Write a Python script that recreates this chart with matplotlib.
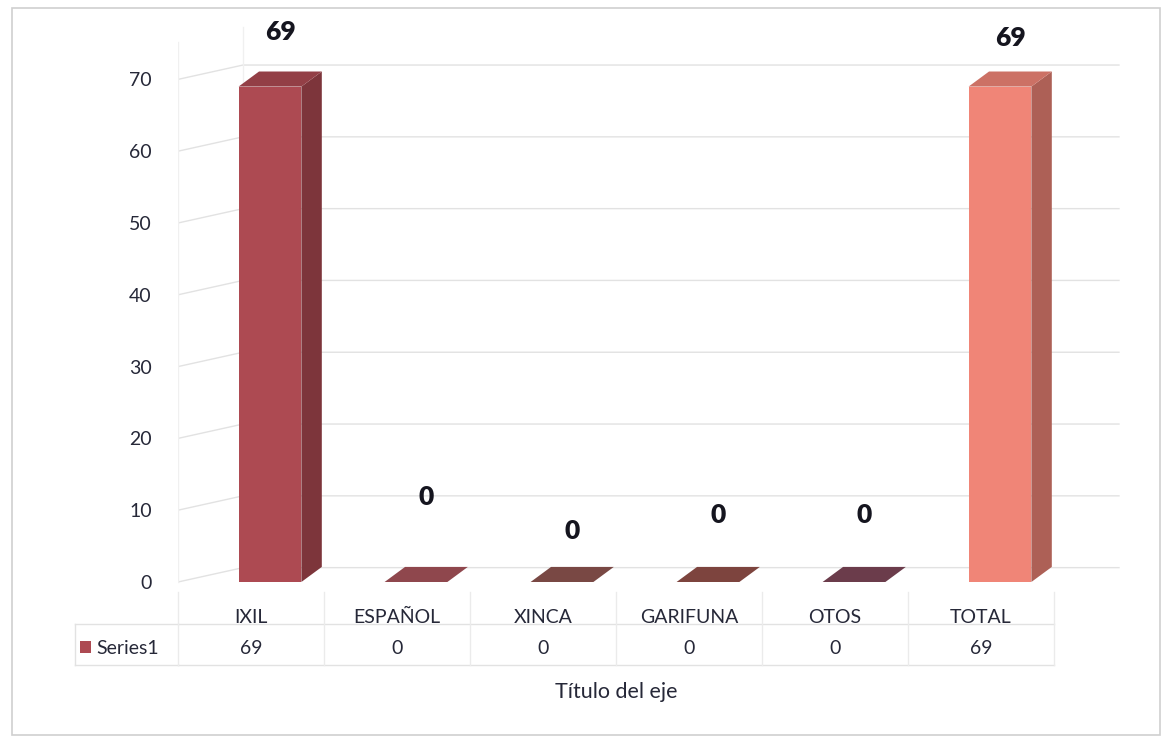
import matplotlib
matplotlib.use("Agg")
import matplotlib.pyplot as plt
from matplotlib.patches import Polygon, Rectangle
from matplotlib.transforms import blended_transform_factory
from matplotlib.colors import to_rgb

# -------- data --------
categories = ["IXIL", "ESPAÑOL", "XINCA", "GARIFUNA", "OTOS", "TOTAL"]
values = [69, 0, 0, 0, 0, 69]
series_name = "Series1"
axis_title = "Título del eje"
yticks = [0, 10, 20, 30, 40, 50, 60, 70]

# -------- style --------
bar_colors = ["#ad4a52", "#a8545a", "#8e5550", "#935049", "#7e4658", "#f08577"]
label_lift = [7.6, 11.8, 7.1, 9.4, 9.3, 6.8]   # where excel happened to put the labels
text_col = "#262838"
grid_col = "#e2e2e2"
font = ["Lato", "DejaVu Sans"]
plt.rcParams["font.family"] = font

W, H = 1170, 738
fig = plt.figure(figsize=(W / 100, H / 100), dpi=100)

# main plot area, in pixels: x 178..1120, y 20..588 (y=0 sits at px 582)
px_per_unit = 7.18
ymin = -(588 - 582) / px_per_unit
ymax = (582 - 20) / px_per_unit
ax = fig.add_axes([178 / W, (H - 588) / H, (1120 - 178) / W, (588 - 20) / H])
ax.set_xlim(-0.5, -0.5 + (1120 - 178) / 146)
ax.set_ylim(ymin, ymax)
for s in ax.spines.values():
    s.set_visible(False)
ax.set_xticks([])
ax.set_yticks(yticks)
ax.set_yticklabels([str(t) for t in yticks], fontsize=14, color=text_col)
ax.tick_params(axis="y", length=0, pad=19)

# fake 3d depth
dx, dy = 0.445, 2.0          # back wall offset
sx, sy = 0.14, 2.1           # bar depth
off, w = 0.13, 0.43          # bar shift / front width
x_end = len(categories) - 0.5 + dx

for t in yticks:
    ax.plot([-0.5, -0.5 + dx, x_end], [t, t + dy, t + dy], color=grid_col, lw=1, zorder=0)
ax.plot([-0.5, -0.5], [0, ymax - 3], color="#f0f0f0", lw=1, zorder=0)
ax.plot([-0.5 + dx, -0.5 + dx], [dy, ymax - 1], color="#f0f0f0", lw=1, zorder=0)


def shade(c, f):
    r, g, b = to_rgb(c)
    return (r * f, g * f, b * f)


for i, (v, c) in enumerate(zip(values, bar_colors)):
    xl = i + off - w / 2
    xr = i + off + w / 2
    if v > 0:
        ax.add_patch(Rectangle((xl, 0), w, v, facecolor=c, edgecolor="none", zorder=3))
    ax.add_patch(Polygon([(xr, 0), (xr + sx, sy), (xr + sx, v + sy), (xr, v)],
                         facecolor=shade(c, 0.72), edgecolor="none", zorder=3))
    ax.add_patch(Polygon([(xl, v), (xr, v), (xr + sx, v + sy), (xl + sx, v + sy)],
                         facecolor=shade(c, 0.85), edgecolor="none", zorder=4))
    ax.text(i + off + sx / 2, v + label_lift[i], str(v), ha="center", va="center",
            fontsize=19, fontweight="heavy", color="#15151f")

# -------- data table + frame, drawn on a full-figure overlay in pixels --------
over = fig.add_axes([0, 0, 1, 1], zorder=-1)
over.set_xlim(0, W)
over.set_ylim(H, 0)
over.axis("off")
tx = blended_transform_factory(ax.transData, over.transData)

over.add_patch(Rectangle((12, 8), 1148, 727, fill=False, edgecolor="#cfcfcf", lw=1.2))

n = len(categories)
for y in (624, 665):
    over.plot([75, 178], [y, y], color="#e2e2e2", lw=1)
    ax.plot([-0.5, n - 0.5], [y, y], transform=tx, color="#e2e2e2", lw=1, clip_on=False)
for k in range(n + 1):
    ax.plot([k - 0.5, k - 0.5], [592, 665], transform=tx, color="#ebebeb", lw=1, clip_on=False)
over.plot([75, 75], [624, 665], color="#e2e2e2", lw=1)

for i, (cat, v) in enumerate(zip(categories, values)):
    ax.text(i, 616, cat, transform=tx, ha="center", va="center_baseline", fontsize=14,
            color=text_col)
    ax.text(i, 647, str(v), transform=tx, ha="center", va="center_baseline", fontsize=14,
            color=text_col)

over.add_patch(Rectangle((80, 641), 11, 12, facecolor=bar_colors[0], edgecolor="none"))
over.text(96, 647, series_name, ha="left", va="center_baseline", fontsize=14, color=text_col)

ax.text((n - 1) / 2, 690, axis_title, transform=tx, ha="center", va="center_baseline",
        fontsize=15.5, color=text_col)

fig.savefig("out.png", dpi=100, facecolor="white")
